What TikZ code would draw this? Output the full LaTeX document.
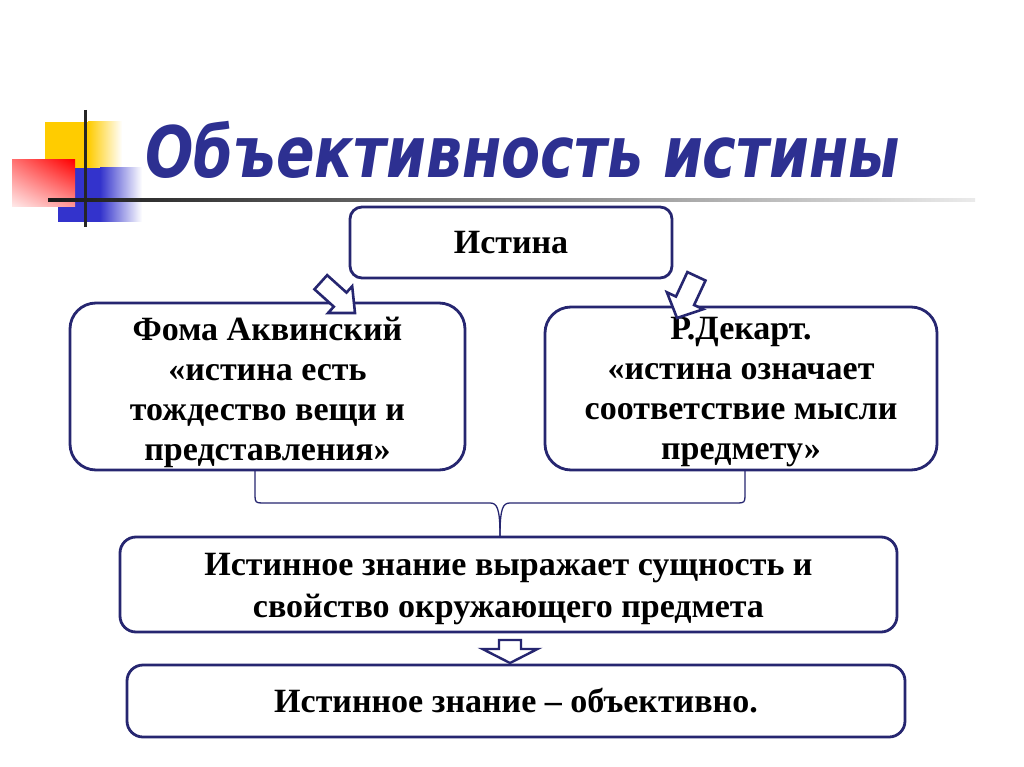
\documentclass[tikz,border=0pt]{standalone}
\usepackage{fontspec}
\usepackage{graphicx}
\usetikzlibrary{shadings}
\setmainfont{Liberation Serif}
\newfontfamily\titlefont{DejaVu Sans}
\definecolor{navy}{RGB}{38,38,112}
\definecolor{titleblue}{RGB}{45,48,145}
\definecolor{yel}{RGB}{255,204,0}
\definecolor{blu}{RGB}{51,51,204}
\begin{document}
\begin{tikzpicture}[x=1pt,y=-1pt,
  box/.style={draw=navy, line width=2.8pt, fill=white, inner sep=0pt},
  txt/.style={align=center, inner sep=0pt, font=\bfseries\fontsize{34}{40}\selectfont},
  blockarrow/.style={draw=navy, line width=2.6pt, fill=white, line join=miter}]
\useasboundingbox (0,0) rectangle (1024,767);
\fill[white] (0,0) rectangle (1024,767);
% decoration
\fill[yel] (45,122) rectangle (88,168);
\shade[left color=yel, right color=white] (88,122) rectangle (122,168);
\fill[blu] (58,168) rectangle (100,222);
\shade[left color=blu, right color=white] (100,168) rectangle (142,222);
\shade[upper left=red!55, upper right=red, lower left=red!8, lower right=red!40] (12,160) rectangle (75,207);
\draw[line width=3pt, black!85] (85,110) -- (85,227);
\shade[left color=black!90, right color=white!92!black] (48,198.5) rectangle (975,201.5);
% title
\node[anchor=base west, text=titleblue, inner sep=0pt] (title) at (145,178)
  {\resizebox{755pt}{\height}{\titlefont\bfseries\itshape\fontsize{71}{71}\selectfont Объективность истины}};
% boxes
\node[box, rounded corners=12pt, minimum width=322pt, minimum height=71pt] (ist) at (511,242.5) {};
\node[box, rounded corners=26pt, minimum width=395pt, minimum height=167pt] (L) at (267.5,386.5) {};
\node[box, rounded corners=26pt, minimum width=392pt, minimum height=163pt] (R) at (741,388.5) {};
\node[box, rounded corners=16pt, minimum width=777pt, minimum height=95pt] (B3) at (508.5,584.5) {};
\node[box, rounded corners=16pt, minimum width=778pt, minimum height=72pt] (B4) at (516,701) {};
% texts
\node[txt] (istT) at (ist.center) {Истина};
\node[txt] (LT) at ([yshift=-5.5pt]L.center) {Фома Аквинский\\«истина есть\\тождество вещи и\\представления»};
\node[txt] (RT) at ([yshift=-4pt]R.center) {Р.Декарт.\\«истина означает\\соответствие мысли\\предмету»};
\node[txt, font=\bfseries\fontsize{34}{42}\selectfont] (B3T) at ([yshift=-4.5pt]B3.center)
  {Истинное знание выражает сущность и\\свойство окружающего предмета};
\node[txt] (B4T) at (B4.center) {Истинное знание – объективно.};
% block arrows
\coordinate (tipL) at (355,313);
\coordinate (tipR) at (677,318);
\coordinate (tipD) at (510,663);
\begin{scope}[shift={(tipL)}, rotate=-42]
  \draw[blockarrow] (0,0) -- (-20,18) -- (-20,9.5) -- (-46,9.5) -- (-46,-9.5) -- (-20,-9.5) -- (-20,-18) -- cycle;
\end{scope}
\begin{scope}[shift={(tipR)}, rotate=-115]
  \draw[blockarrow] (0,0) -- (-19,20) -- (-19,10) -- (-46,10) -- (-46,-10) -- (-19,-10) -- (-19,-20) -- cycle;
\end{scope}
\begin{scope}[shift={(tipD)}, rotate=-90]
  \draw[blockarrow, line width=2.4pt] (0,0) -- (-14,27.5) -- (-14,11) -- (-23,11) -- (-23,-11) -- (-14,-11) -- (-14,-27.5) -- cycle;
\end{scope}
% brace
\coordinate (b1) at (255,471);
\coordinate (b2) at (745,471);
\coordinate (bm) at (500,536);
\draw[navy, line width=1.3pt] (b1) -- ++(0,25) .. controls +(0,6) and +(-6,0) .. ++(7,7) -- (490,503)
  .. controls (497,503) and (500,508) .. (bm);
\draw[navy, line width=1.3pt] (b2) -- ++(0,25) .. controls +(0,6) and +(6,0) .. ++(-7,7) -- (510,503)
  .. controls (503,503) and (500,508) .. (bm);
\end{tikzpicture}
\end{document}
